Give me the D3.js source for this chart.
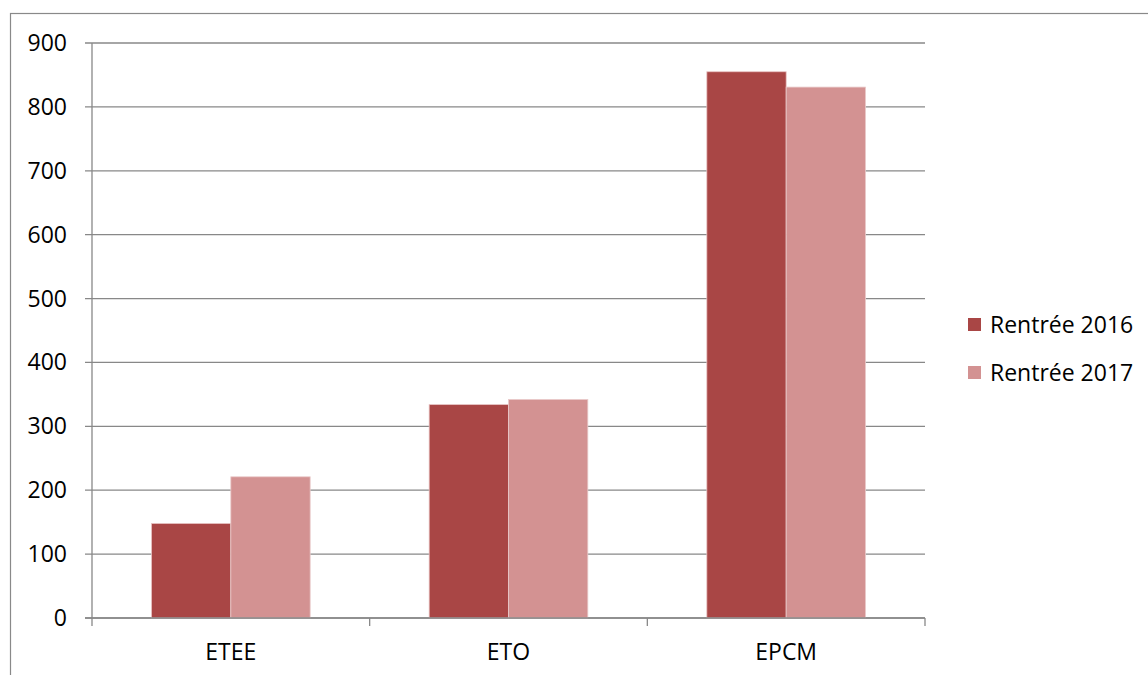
<!DOCTYPE html>
<html>
<head>
<meta charset="utf-8">
<script src="https://cdn.jsdelivr.net/npm/d3@7"></script>
<style>
  html, body { margin: 0; padding: 0; background: #fff; }
  svg { display: block; }
  text { font-family: "Open Sans", "Noto Sans", sans-serif; fill: #000; }
</style>
</head>
<body>
<svg id="chart" width="1148" height="675"></svg>
<script>
const categories = ["ETEE", "ETO", "EPCM"];
const seriesNames = ["Rentrée 2016", "Rentrée 2017"];
const values2016 = [148, 334, 855];
const values2017 = [221, 342, 831];
const yTicks = [0, 100, 200, 300, 400, 500, 600, 700, 800, 900];
const colors = ["#A94645", "#D39292"];

const svg = d3.select("#chart");
const W = 1148, H = 675;
const plot = { left: 92, right: 925, top: 43, bottom: 618 };

// outer border (extends beyond right/bottom edges)
svg.append("rect")
  .attr("x", 10.5).attr("y", 13.5)
  .attr("width", W + 20).attr("height", H + 20)
  .attr("fill", "none").attr("stroke", "#898989").attr("stroke-width", 1.2);

const x0 = d3.scaleBand().domain(categories).range([plot.left, plot.right]).paddingInner(0).paddingOuter(0);
const x1 = d3.scaleBand().domain(seriesNames).range([0, x0.bandwidth()]).paddingInner(0).paddingOuter(0.75);
const y = d3.scaleLinear().domain([0, 900]).range([plot.bottom, plot.top]);

// gridlines
svg.append("g").selectAll("line").data(yTicks).join("line")
  .attr("x1", plot.left - 7).attr("x2", plot.right)
  .attr("y1", d => y(d)).attr("y2", d => y(d))
  .attr("stroke", "#888").attr("stroke-width", 1.3);

// y axis line
svg.append("line")
  .attr("x1", plot.left).attr("x2", plot.left)
  .attr("y1", plot.top).attr("y2", plot.bottom)
  .attr("stroke", "#888").attr("stroke-width", 1.3);

// y labels
svg.append("g").selectAll("text").data(yTicks).join("text")
  .attr("x", 67).attr("y", d => y(d))
  .attr("dy", "0.35em")
  .attr("text-anchor", "end")
  .attr("font-size", 23)
  .text(d => d);

// bars
const data = categories.map((c, i) => ({ cat: c, vals: [values2016[i], values2017[i]] }));
const groups = svg.append("g").selectAll("g").data(data).join("g")
  .attr("transform", d => `translate(${x0(d.cat)},0)`);
groups.selectAll("rect").data(d => d.vals.map((v, j) => ({ v, s: seriesNames[j], j })))
  .join("rect")
  .attr("x", d => x1(d.s))
  .attr("width", x1.bandwidth())
  .attr("y", d => y(d.v))
  .attr("height", d => y(0) - y(d.v))
  .attr("fill", d => colors[d.j])
  .attr("stroke", d => d.j === 0 ? "#e8c4c4" : "#e9caca")
  .attr("stroke-width", 0.8);

// x axis baseline
svg.append("line")
  .attr("x1", plot.left - 7).attr("x2", plot.right)
  .attr("y1", plot.bottom).attr("y2", plot.bottom)
  .attr("stroke", "#888").attr("stroke-width", 1.3);

// x ticks at category boundaries
const boundaries = categories.map(c => x0(c)).concat([plot.right]);
svg.append("g").selectAll("line").data(boundaries).join("line")
  .attr("x1", d => d).attr("x2", d => d)
  .attr("y1", plot.bottom).attr("y2", plot.bottom + 8)
  .attr("stroke", "#888").attr("stroke-width", 1.3);

// x labels
svg.append("g").selectAll("text").data(categories).join("text")
  .attr("x", d => x0(d) + x0.bandwidth() / 2)
  .attr("y", 660)
  .attr("text-anchor", "middle")
  .attr("font-size", 23)
  .text(d => d);

// legend
const legend = svg.append("g").selectAll("g").data(seriesNames).join("g")
  .attr("transform", (d, i) => `translate(968,${318 + i * 48})`);
legend.append("rect")
  .attr("width", 13).attr("height", 13)
  .attr("fill", (d, i) => colors[i]);
legend.append("text")
  .attr("x", 22).attr("y", 6.5).attr("dy", "0.35em")
  .attr("font-size", 23)
  .text(d => d);
</script>
</body>
</html>
